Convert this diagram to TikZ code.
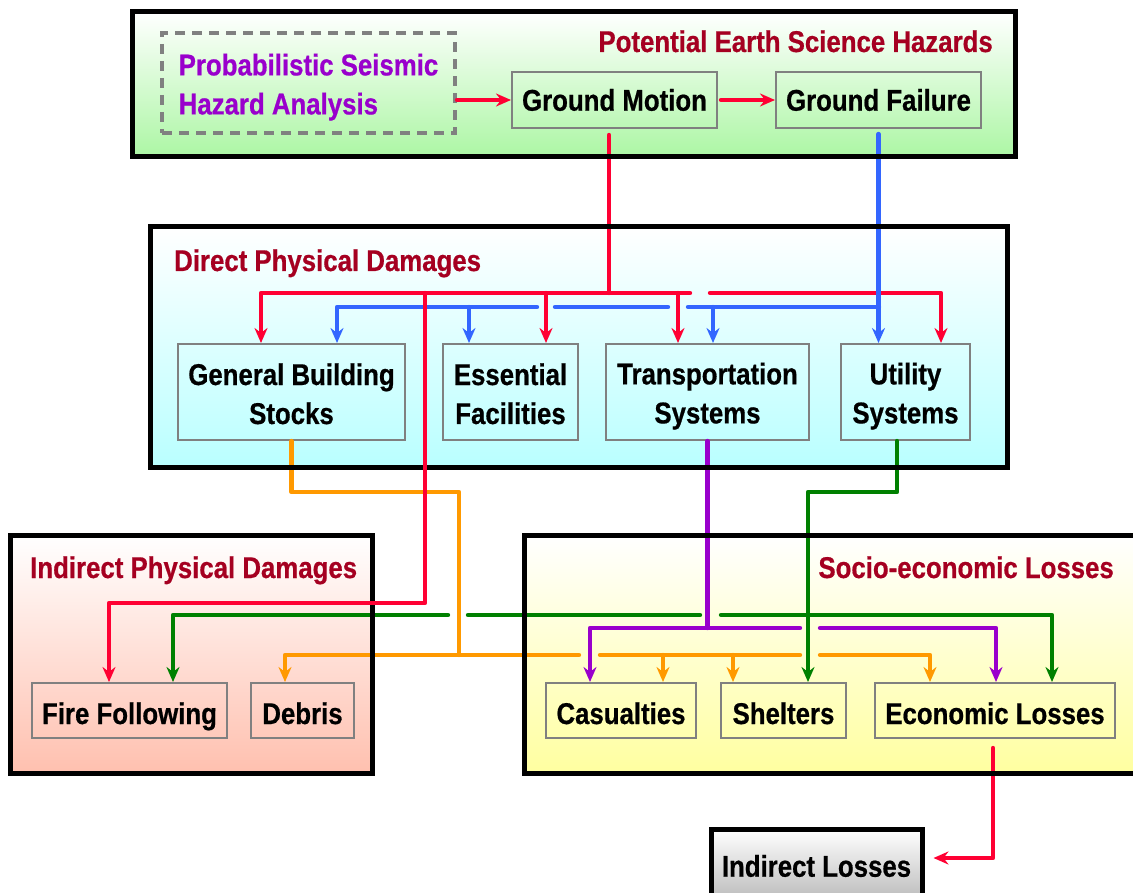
\documentclass[tikz,border=0pt]{standalone}
\usepackage{fontspec}
\setmainfont{Liberation Sans}[FakeStretch=0.86, BoldFeatures={FakeBold=0.6}]
\usetikzlibrary{arrows.meta}

\definecolor{cRed}{RGB}{255,0,51}
\definecolor{cBlue}{RGB}{51,102,255}
\definecolor{cPurple}{RGB}{153,0,204}
\definecolor{cGreen}{RGB}{0,128,0}
\definecolor{cOrange}{RGB}{255,153,0}
\definecolor{cTitle}{RGB}{165,0,33}
\definecolor{cEdge}{RGB}{128,128,128}
\definecolor{gGreen}{RGB}{172,246,164}
\definecolor{gCyan}{RGB}{185,255,255}
\definecolor{gSalmon}{RGB}{255,192,175}
\definecolor{gYellow}{RGB}{255,255,160}
\definecolor{gGray}{RGB}{185,185,185}

% line strut for two-line labels
\newcommand\lnstrut{\vrule height 30pt depth 5pt width 0pt}

\begin{document}
\begin{tikzpicture}[x=1pt,y=-1pt,
  every node/.style={font=\fontsize{30}{39}\selectfont\bfseries},
  item/.style={draw=cEdge, line width=2pt, align=center, inner sep=0pt},
  rowitem/.style={item, minimum height=56pt},
  dmgitem/.style={item, minimum height=96pt},
  lossitem/.style={item, minimum height=55pt, text height=27pt, text depth=0pt},
  grouptitle/.style={text=cTitle, inner sep=0pt},
  wire/.style={line width=4.4pt, line cap=round, line join=round},
  arr/.style={wire, -{Stealth[length=15pt,width=13pt,inset=5pt]}},
  frame/.style={line width=5pt, draw=black},
]
\useasboundingbox (0,0) rectangle (1133,893);
\clip (0,0) rectangle (1133,893);
\fill[white] (0,0) rectangle (1133,893);

% group panels (shaded fills; borders are drawn later, over the wires)
\path[top color=white, bottom color=gGreen]  (132,12)  rectangle (1015,157);
\path[top color=white, bottom color=gCyan]   (150,227) rectangle (1007,467);
\path[top color=white, bottom color=gSalmon] (10,535)  rectangle (372,773);
\path[top color=white, bottom color=gYellow] (524,535) rectangle (1145,773);

% panel titles
\node[grouptitle, anchor=base east] (tHaz) at (993,52)  {Potential Earth Science Hazards};
\node[grouptitle, anchor=base west] (tDir) at (174,271) {Direct Physical Damages};
\node[grouptitle, anchor=base west] (tInd) at (30,578)  {Indirect Physical Damages};
\node[grouptitle, anchor=base east] (tSoc) at (1114,578) {Socio-economic Losses};

% hazards row
\node[draw=cEdge, line width=4pt, dash pattern=on 10pt off 7pt, minimum width=293pt,
      minimum height=100pt, inner sep=0pt, align=left, text=cPurple]
      (psha) at (308.5,83) {\lnstrut Probabilistic Seismic\\\lnstrut Hazard Analysis};
\node[rowitem, minimum width=205pt] (gm) at (614.5,100) {Ground Motion};
\node[rowitem, minimum width=205pt] (gf) at (878.5,100) {Ground Failure};

% direct damages
\node[dmgitem, minimum width=227pt] (gbs) at (291.5,392) {\lnstrut General Building\\\lnstrut Stocks};
\node[dmgitem, minimum width=135pt] (ef)  at (510.5,392) {\lnstrut Essential\\\lnstrut Facilities};
\node[dmgitem, minimum width=203pt] (ts)  at (707.5,392) {\lnstrut Transportation\\\lnstrut Systems};
\node[dmgitem, minimum width=129pt] (us)  at (905.5,392) {\lnstrut Utility\\\lnstrut Systems};

% indirect damages and losses
\node[lossitem, minimum width=195pt] (ff)   at (129.5,710.5) {Fire Following};
\node[lossitem, minimum width=103pt] (deb)  at (302.5,710.5) {Debris};
\node[lossitem, minimum width=150pt] (cas)  at (621,710.5)   {Casualties};
\node[lossitem, minimum width=125pt] (shel) at (783.5,710.5) {Shelters};
\node[lossitem, minimum width=240pt] (eco)  at (995,710.5)   {Economic Losses};

\node[draw=black, line width=5pt, top color=white, bottom color=gGray,
      minimum width=211pt, minimum height=74pt, inner sep=0pt] (il) at (816.5,866) {Indirect Losses};

% junction and bend points
\coordinate (rj) at (609,293);
\coordinate (r1) at (261,293);  \coordinate (r2) at (546,293);
\coordinate (r3) at (678,293);  \coordinate (r4) at (941,293);
\coordinate (rf) at (425,293);  \coordinate (rf2) at (425,603); \coordinate (rf3) at (109,603);
\coordinate (rgL) at (690,293); \coordinate (rgR) at (710,293);

\coordinate (bj) at (879,307);
\coordinate (b1) at (337,307);  \coordinate (b2) at (469,307); \coordinate (b3) at (713,307);
\coordinate (bg1) at (688,307); \coordinate (bg2) at (668,307);
\coordinate (bg3) at (555,307); \coordinate (bg4) at (537,307);

\coordinate (oc) at (459,492);  \coordinate (oj) at (459,655);
\coordinate (o1) at (285,655);  \coordinate (o2) at (663,655);
\coordinate (o3) at (733,655);  \coordinate (o4) at (930,655);
\coordinate (og1) at (579,655); \coordinate (og2) at (600,655);
\coordinate (og3) at (800,655); \coordinate (og4) at (820,655);

\coordinate (pj) at (707.5,628);
\coordinate (p1) at (590,628);  \coordinate (p2) at (996,628);
\coordinate (pg1) at (800,628); \coordinate (pg2) at (820,628);

\coordinate (gc1) at (897,492); \coordinate (gc2) at (808,492);
\coordinate (g1) at (173,615);  \coordinate (g2) at (1052,615);
\coordinate (gg1) at (448,615); \coordinate (gg2) at (468,615);
\coordinate (gg3) at (700,615); \coordinate (gg4) at (721,615);

% hazard chain
\draw[arr,cRed] (psha.east |- gm.west) -- (gm.west);
\draw[arr,cRed] ([xshift=3pt]gm.east) -- (gf.west);

% ground motion -> direct damages
\draw[wire,cRed] ([xshift=-5.5pt,yshift=-6pt]gm.south) -- (rj);
\draw[arr,cRed] (rgL) -- (r1) -- (r1 |- gbs.north);
\draw[arr,cRed] (r2) -- (r2 |- ef.north);
\draw[arr,cRed] (r3) -- (r3 |- ts.north);
\draw[arr,cRed] (rgR) -- (r4) -- (r4 |- us.north);

% general building stocks -> debris, casualties, shelters, economic losses
\draw[wire,cOrange] (gbs.south) -- (gbs.south |- oc) -- (oc) -- (oj);
\draw[arr,cOrange] (og1) -- (o1) -- (o1 |- deb.north);
\draw[wire,cOrange] (og2) -- (og3);
\draw[arr,cOrange] (o2) -- (o2 |- cas.north);
\draw[arr,cOrange] (o3) -- (o3 |- shel.north);
\draw[arr,cOrange] (og4) -- (o4) -- (o4 |- eco.north);

% transportation systems -> casualties, economic losses
\draw[wire,cPurple] (ts.south) -- (pj);
\draw[arr,cPurple] (pg1) -- (p1) -- (p1 |- cas.north);
\draw[arr,cPurple] (pg2) -- (p2) -- (p2 |- eco.north);

% utility systems -> fire following, shelters, economic losses
\draw[arr,cGreen] ([xshift=-8.5pt]us.south) -- (gc1) -- (gc2) -- (gc2 |- shel.north);
\draw[arr,cGreen] (gg1) -- (g1) -- (g1 |- ff.north);
\draw[wire,cGreen] (gg2) -- (gg3);
\draw[arr,cGreen] (gg4) -- (g2) -- (g2 |- eco.north);

% ground failure -> direct damages
\draw[arr,cBlue] ([yshift=-5pt]gf.south) -- (gf.south |- us.north);
\draw[wire,cBlue] (bj) -- (bg1);
\draw[wire,cBlue] (bg2) -- (bg3);
\draw[arr,cBlue] (bg4) -- (b1) -- (b1 |- gbs.north);
\draw[arr,cBlue] (b2) -- (b2 |- ef.north);
\draw[arr,cBlue] (b3) -- (b3 |- ts.north);

% economic losses -> indirect losses
\draw[arr,cRed] ([xshift=-2pt,yshift=-9pt]eco.south) |- ([xshift=9pt,yshift=8pt]il.east);

% panel borders
\draw[frame] (132,12)  rectangle (1015,157);
\draw[frame] (150,227) rectangle (1007,467);
\draw[frame] (10,535)  rectangle (372,773);
\draw[frame] (524,535) rectangle (1145,773);

% ground motion -> fire following
\draw[arr,cRed] (rf) -- (rf2) -- (rf3) -- (rf3 |- ff.north);
\end{tikzpicture}
\end{document}
